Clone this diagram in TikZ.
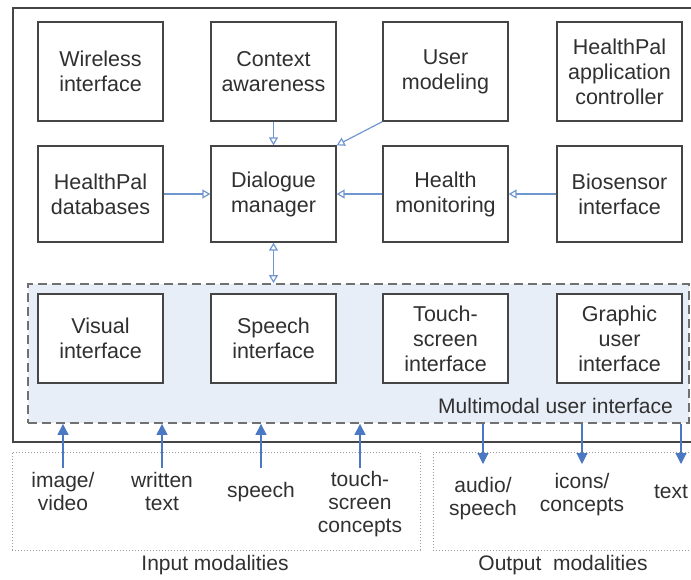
\documentclass[tikz,border=0pt]{standalone}
\usepackage{fontspec}
\setmainfont{Liberation Sans}
\usetikzlibrary{arrows.meta}
\definecolor{txt}{HTML}{303030}
\definecolor{boxline}{HTML}{454545}
\definecolor{conn}{HTML}{7096D0}
\definecolor{arr}{HTML}{4A78C2}
\definecolor{mmfill}{HTML}{E8EEF7}
\definecolor{dashc}{HTML}{707070}
\definecolor{dotc}{HTML}{9A9A9A}
\tikzset{
  blk/.style={draw=boxline, line width=1.3pt, fill=white, minimum width=125pt, minimum height=99pt,
    align=center, text=txt, font=\fontsize{21.5}{25}\selectfont, inner sep=0pt},
  blkb/.style={blk, minimum height=89pt},
  conline/.style={draw=conn, line width=1.2pt, -{Triangle[open,length=8pt,width=9pt]}},
  conboth/.style={draw=conn, line width=1.2pt, {Triangle[open,length=8pt,width=9pt]}-{Triangle[open,length=8pt,width=9pt]}},
  ioarrow/.style={draw=arr, line width=1.1pt, -{Triangle[length=11pt,width=11pt]}},
  lbl/.style={align=center, text=txt, font=\fontsize{21}{23}\selectfont, inner sep=0pt},
}
\begin{document}
\begin{tikzpicture}[x=1pt,y=-1pt]
\useasboundingbox (0,0) rectangle (691,579);
% outer frame
\draw[boxline, line width=1.8pt] (691,8) -- (13,8) -- (13,442) -- (691,442);
% multimodal dashed region
\node[draw=dashc, fill=mmfill, dashed, dash pattern=on 9pt off 5pt, line width=1.8pt,
  minimum width=661pt, minimum height=139pt, inner sep=0pt] (mmui) at (358.5,353.5) {};
\node[lbl, anchor=east] (mmlbl) at (673,406) {Multimodal user interface};
% row 1
\node[blk] (wi) at (100.5,71.5) {Wireless\\interface};
\node[blk] (ca) at (273.5,71.5) {Context\\awareness};
\node[blk] (um) at (445.5,71.5) {User\\modeling};
\node[blk] (ac) at (619.5,71.5) {HealthPal\\application\\controller};
% row 2
\node[blk,minimum height=96pt] (db) at (100.5,194) {HealthPal\\databases};
\node[blk,minimum height=96pt] (dm) at (273.5,194) {Dialogue\\manager};
\node[blk,minimum height=96pt] (hm) at (445.5,194) {Health\\monitoring};
\node[blk,minimum height=96pt] (bs) at (619.5,194) {Biosensor\\interface};
% row 3
\node[blkb] (vi) at (100.5,338.5) {Visual\\interface};
\node[blkb] (si) at (273.5,338.5) {Speech\\interface};
\node[blkb] (ti) at (445.5,338.5) {Touch-\\screen\\interface};
\node[blkb] (gi) at (619.5,338.5) {Graphic\\user\\interface};
% connectors
\draw[conline] (ca.south) -- (dm.north);
\draw[conline] (um.south west) -- (dm.north east);
\draw[conline] (db.east) -- (dm.west);
\draw[conline] (hm.west) -- (dm.east);
\draw[conline] (bs.west) -- (hm.east);
\draw[conboth] (dm.south) -- (dm.south |- mmui.north);
% dotted modality boxes
\node[draw=dotc, dotted, line width=1pt, minimum width=408pt, minimum height=98pt, inner sep=0pt] (inbox) at (216,501) {};
\node[draw=dotc, dotted, line width=1pt, minimum width=262pt, minimum height=98pt, inner sep=0pt] (outbox) at (564,501) {};
\node[lbl] (inlbl) at (215,565) {Input modalities};
\node[lbl] (outlbl) at (563,565) {Output\hspace{0.55em}modalities};
% input labels
\node[lbl] (iv) at (63,491) {image/\\video};
\node[lbl] (wt) at (162,491) {written\\text};
\node[lbl] (sp) at (261,492) {speech};
\node[lbl] (tc) at (360,504) {touch-\\screen\\concepts};
\coordinate (c1) at (63,468);
\coordinate (c2) at (162,468);
\coordinate (c3) at (261,468);
\coordinate (c4) at (360,468);
\draw[ioarrow] (c1) -- (c1 |- mmui.south);
\draw[ioarrow] (c2) -- (c2 |- mmui.south);
\draw[ioarrow] (c3) -- (c3 |- mmui.south);
\draw[ioarrow] (c4) -- (c4 |- mmui.south);
% output labels
\node[lbl] (as) at (483,499) {audio/\\speech};
\node[lbl] (ic) at (582,495) {icons/\\concepts};
\node[lbl] (tx) at (671,492) {text};
\coordinate (o1) at (483,464);
\coordinate (o2) at (582,464);
\coordinate (o3) at (681,464);
\draw[ioarrow] (o1 |- mmui.south) -- (o1);
\draw[ioarrow] (o2 |- mmui.south) -- (o2);
\draw[ioarrow] (o3 |- mmui.south) -- (o3);
\end{tikzpicture}
\end{document}
